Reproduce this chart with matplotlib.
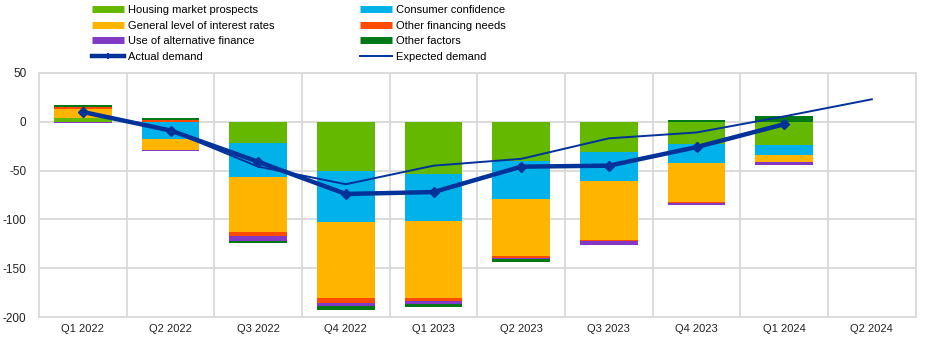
import matplotlib.pyplot as plt
import numpy as np
from matplotlib.lines import Line2D

plt.rcParams['font.family'] = ['Liberation Sans', 'DejaVu Sans']
plt.rcParams['axes.unicode_minus'] = False

# data
quarters = ['Q1 2022', 'Q2 2022', 'Q3 2022', 'Q4 2022', 'Q1 2023',
            'Q2 2023', 'Q3 2023', 'Q4 2023', 'Q1 2024', 'Q2 2024']
housing = [3.5, 0, -21.5, -50, -53.5, -40, -31, -23, -24, np.nan]
consumer = [0, -17.5, -35, -53, -48, -39, -30, -19, -10, np.nan]
interest = [10, -11, -56.5, -78, -79, -59, -60, -40, -7.5, np.nan]
other_financing = [2, 2, -4, -5, -3.5, -1.5, -1.5, -1.5, 0, np.nan]
alt_finance = [-1.5, -1, -5.5, -2.5, -3, -1.5, -3.5, -2, -3, np.nan]
other_factors = [1.7, 1.5, -1.5, -4.5, -3, -2.5, 0, 1.5, 5.5, np.nan]
actual = [10, -9, -41, -74, -72, -46, -45, -26, -2.5, np.nan]
expected = [10, -9, -46, -64, -45, -38, -17, -11, 5.5, 23]

series = [
    ('Housing market prospects', housing, '#65B800'),
    ('Consumer confidence', consumer, '#00B1EA'),
    ('General level of interest rates', interest, '#FFB400'),
    ('Other financing needs', other_financing, '#FF4B00'),
    ('Use of alternative finance', alt_finance, '#8139C6'),
    ('Other factors', other_factors, '#007816'),
]
navy = '#003299'
grid = '#D9D9D9'

fig = plt.figure(figsize=(9.45, 3.54), dpi=100)
ax = fig.add_axes([0.0413, 0.1045, 0.9277, 0.6895])

x = np.arange(len(quarters))
width = 0.66
pos_bottom = np.zeros(len(x))
neg_bottom = np.zeros(len(x))
for name, vals, col in series:
    v = np.nan_to_num(np.array(vals, dtype=float))
    bottom = np.where(v >= 0, pos_bottom, neg_bottom)
    ax.bar(x, v, width, bottom=bottom, color=col, linewidth=0, zorder=2)
    pos_bottom += np.where(v >= 0, v, 0)
    neg_bottom += np.where(v < 0, v, 0)

ax.plot(x, expected, color=navy, lw=1.4, zorder=3)
ax.plot(x, actual, color=navy, lw=3.2, marker='D', ms=5.5, zorder=4)

ax.set_xlim(-0.5, len(x) - 0.5)
ax.set_ylim(-200, 50)
ax.set_yticks(np.arange(-200, 51, 50))
ax.set_xticks(x)
ax.set_xticklabels(quarters)
ax.set_xticks(np.arange(0.5, len(x) - 1, 1), minor=True)
ax.grid(axis='y', color=grid, lw=1.3, zorder=0)
ax.grid(axis='x', which='minor', color=grid, lw=1.3, zorder=0)
ax.tick_params(which='both', length=0)
ax.tick_params(axis='y', pad=9, labelsize=8.5, labelcolor='#222222')
ax.tick_params(axis='x', pad=5, labelsize=8, labelcolor='#222222')
for s in ax.spines.values():
    s.set_color(grid)
    s.set_linewidth(1.3)

# legend in two columns
def bar_handle(col):
    return Line2D([], [], color=col, lw=5, solid_capstyle='butt')

left_h = [bar_handle(series[0][2]), bar_handle(series[2][2]), bar_handle(series[4][2]),
          Line2D([], [], color=navy, lw=3.2, marker='|', ms=5, mew=1.5)]
left_l = [series[0][0], series[2][0], series[4][0], 'Actual demand']
right_h = [bar_handle(series[1][2]), bar_handle(series[3][2]), bar_handle(series[5][2]),
           Line2D([], [], color=navy, lw=1.4)]
right_l = [series[1][0], series[3][0], series[5][0], 'Expected demand']

for h, l, xpos in [(left_h, left_l, 0.0963), (right_h, right_l, 0.380)]:
    fig.legend(h, l, loc='upper left', bbox_to_anchor=(xpos, 0.988),
               frameon=False, fontsize=8, handlelength=2.9, handletextpad=0.35,
               labelspacing=0.52, borderpad=0.05, borderaxespad=0)

fig.savefig('out.png', dpi=100)
